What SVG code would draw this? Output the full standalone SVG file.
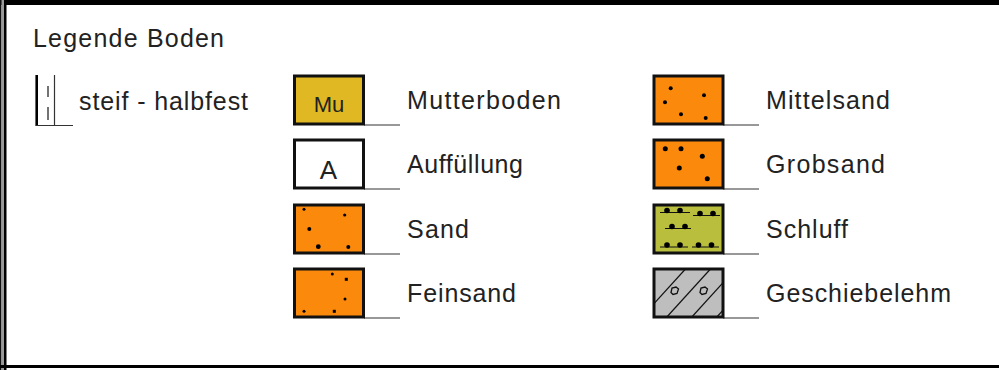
<svg xmlns="http://www.w3.org/2000/svg" width="999" height="370" viewBox="0 0 999 370">
<style>
.t{font-family:"Liberation Sans",Arial,sans-serif;font-size:25px;fill:#222}
.box{stroke:#111;stroke-width:3}
.ul{stroke:#333;stroke-width:1.2;fill:none}
.dot{fill:#000}
.hat{stroke:#111;stroke-width:1.3;fill:none}
</style>
<defs>
<clipPath id="gclip"><rect x="654.5" y="269.5" width="69" height="47"/></clipPath>
</defs>
<rect x="0" y="0" width="999" height="370" fill="#fff"/>
<g id="frame">
<rect x="0" y="0" width="999" height="5" fill="#000"/>
<rect x="0" y="0" width="1.5" height="370" fill="#111"/>
<rect x="1.5" y="0" width="2.5" height="370" fill="#999"/>
<rect x="4" y="0" width="2.5" height="370" fill="#000"/>
<rect x="0" y="365" width="999" height="3" fill="#000"/>
</g>
<g id="title"><text class="t" x="33" y="47" textLength="191" lengthAdjust="spacing">Legende Boden</text></g>
<g id="steif">
<line x1="36.7" y1="75" x2="36.7" y2="126" stroke="#000" stroke-width="2.6"/>
<line x1="54.5" y1="75" x2="54.5" y2="126" stroke="#333" stroke-width="1.2"/>
<line x1="36" y1="125.5" x2="73" y2="125.5" stroke="#333" stroke-width="1.2"/>
<line x1="48" y1="86" x2="48" y2="97" stroke="#444" stroke-width="1.5"/>
<line x1="48" y1="107" x2="48" y2="120" stroke="#444" stroke-width="1.5"/>
<text class="t" x="79" y="110" textLength="169" lengthAdjust="spacing">steif - halbfest</text>
</g>
<g id="connectors">
<line class="ul" x1="364" y1="125" x2="400" y2="125"/>
<line class="ul" x1="364" y1="189" x2="400" y2="189"/>
<line class="ul" x1="364" y1="254" x2="400" y2="254"/>
<line class="ul" x1="364" y1="318" x2="400" y2="318"/>
<line class="ul" x1="723" y1="125" x2="759" y2="125"/>
<line class="ul" x1="723" y1="189" x2="759" y2="189"/>
<line class="ul" x1="723" y1="254" x2="759" y2="254"/>
<line class="ul" x1="723" y1="318" x2="759" y2="318"/>
</g>
<g id="mutterboden">
<rect class="box" x="294.5" y="76" width="69" height="48" fill="#DFB823"/>
<text x="329" y="112" font-family="Liberation Sans,Arial,sans-serif" font-size="22" fill="#222" text-anchor="middle">Mu</text>
<text class="t" x="407" y="109" textLength="154" lengthAdjust="spacing">Mutterboden</text>
</g>
<g id="auffuellung">
<rect class="box" x="294.5" y="140" width="69" height="48" fill="#fff"/>
<text x="328.5" y="179" font-family="Liberation Sans,Arial,sans-serif" font-size="26" fill="#222" text-anchor="middle">A</text>
<text class="t" x="407" y="173" textLength="116" lengthAdjust="spacing">Auffüllung</text>
</g>
<g id="sand">
<rect class="box" x="294.5" y="205" width="69" height="48" fill="#FB8A0C"/>
<circle class="dot" cx="304" cy="209.3" r="1.5"/>
<circle class="dot" cx="344.7" cy="215" r="1.6"/>
<circle class="dot" cx="309.3" cy="229" r="2"/>
<circle class="dot" cx="318.3" cy="246.7" r="2.4"/>
<circle class="dot" cx="348.3" cy="247" r="2"/>
<text class="t" x="407" y="238" textLength="62" lengthAdjust="spacing">Sand</text>
</g>
<g id="feinsand">
<rect class="box" x="294.5" y="269" width="69" height="48" fill="#FB8A0C"/>
<circle class="dot" cx="332.3" cy="274" r="1.5"/>
<rect class="dot" x="344.8" y="277.8" width="3" height="3"/>
<circle class="dot" cx="345" cy="299" r="1.5"/>
<circle class="dot" cx="304" cy="311.3" r="1.5"/>
<rect class="dot" x="332.8" y="309.8" width="3" height="3"/>
<text class="t" x="407" y="302" textLength="109" lengthAdjust="spacing">Feinsand</text>
</g>
<g id="mittelsand">
<rect class="box" x="654" y="76" width="69" height="48" fill="#FB8A0C"/>
<circle class="dot" cx="670.7" cy="88.3" r="2"/>
<circle class="dot" cx="704" cy="95.3" r="2"/>
<circle class="dot" cx="665" cy="102.3" r="2"/>
<circle class="dot" cx="681" cy="114.3" r="2"/>
<circle class="dot" cx="705.7" cy="118" r="2"/>
<text class="t" x="766" y="109" textLength="124" lengthAdjust="spacing">Mittelsand</text>
</g>
<g id="grobsand">
<rect class="box" x="654" y="140" width="69" height="48" fill="#FB8A0C"/>
<circle class="dot" cx="665.3" cy="148.7" r="2.5"/>
<circle class="dot" cx="681" cy="148.7" r="2.5"/>
<circle class="dot" cx="702.3" cy="156.3" r="2.5"/>
<circle class="dot" cx="679.3" cy="168" r="2.5"/>
<circle class="dot" cx="707.3" cy="178.7" r="2.5"/>
<text class="t" x="766" y="173" textLength="119" lengthAdjust="spacing">Grobsand</text>
</g>
<g id="schluff">
<rect class="box" x="654" y="205" width="69" height="48" fill="#B9BE3C"/>
<g stroke="#111" stroke-width="1">
<line x1="660" y1="212.5" x2="690" y2="212.5"/>
<line x1="693" y1="215.5" x2="720" y2="215.5"/>
<line x1="665" y1="228.5" x2="691" y2="228.5"/>
<line x1="660" y1="247" x2="688" y2="247"/>
<line x1="692" y1="247" x2="719" y2="247"/>
</g>
<circle class="dot" cx="667" cy="210.5" r="2.8"/>
<circle class="dot" cx="680" cy="210.5" r="2.8"/>
<circle class="dot" cx="700" cy="213.5" r="2.8"/>
<circle class="dot" cx="713" cy="213.5" r="2.8"/>
<circle class="dot" cx="672" cy="226.5" r="2.8"/>
<circle class="dot" cx="685" cy="226.5" r="2.8"/>
<circle class="dot" cx="667" cy="245" r="2.8"/>
<circle class="dot" cx="680" cy="245" r="2.8"/>
<circle class="dot" cx="698.5" cy="245" r="2.8"/>
<circle class="dot" cx="711.5" cy="245" r="2.8"/>
<text class="t" x="766" y="238" textLength="82" lengthAdjust="spacing">Schluff</text>
</g>
<g id="geschiebelehm">
<rect class="box" x="654" y="269" width="69" height="48" fill="#BEBEBE"/>
<g clip-path="url(#gclip)" class="hat">
<line x1="630" y1="330" x2="700" y2="253"/>
<line x1="655" y1="330" x2="725" y2="253"/>
<line x1="680" y1="330" x2="750" y2="253"/>
<line x1="705" y1="330" x2="775" y2="253"/>
</g>
<polygon class="hat" points="671,292.5 672,288 676,287 678.5,289 677,293.5 673,294.5"/>
<polygon class="hat" points="700,292.5 701,288 705,287 707.5,289 706,293.5 702,294.5"/>
<text class="t" x="766" y="302" textLength="185" lengthAdjust="spacing">Geschiebelehm</text>
</g>
</svg>
